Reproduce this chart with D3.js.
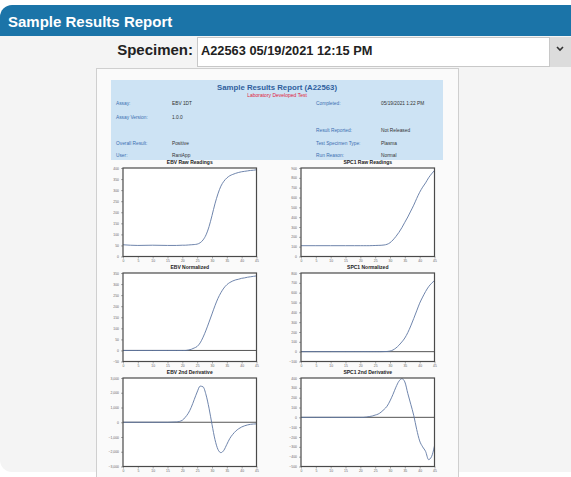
<!DOCTYPE html>
<html>
<head>
<meta charset="utf-8">
<script src="https://cdn.jsdelivr.net/npm/d3@7"></script>
<style>
  body { margin: 0; background: #fff; font-family: 'Liberation Sans', Arial, sans-serif; }
  svg { display: block; }
</style>
</head>
<body>
<svg id="page" width="571" height="477"></svg>
<script>
// cycles the curves are sampled at
const cycles = [0, 5, 10, 15, 18, 20, 21, 22, 23, 24, 25, 26, 27, 28, 29, 30, 31, 32, 33, 34, 35, 36, 37, 38, 39, 40, 41, 42, 43, 44, 45];

const ebvRaw = [53, 50, 51, 50, 50, 51, 51, 52, 53, 54, 56, 62, 75, 98, 135, 185, 238, 283, 318, 340, 355, 365, 371, 376, 380, 383, 385, 387, 389, 390, 392];
const spcRaw = [110, 110, 110, 110, 110, 110, 110, 110, 110, 111, 112, 113, 114, 117, 124, 140, 168, 204, 245, 293, 348, 402, 462, 522, 590, 653, 705, 749, 800, 840, 876];
const ebvNorm = [0, 0, 0, 0, 0, 0, 0, 2, 5, 11, 18, 34, 60, 92, 128, 165, 202, 235, 261, 282, 297, 307, 314, 319, 322, 326, 328, 331, 333, 335, 337];
const spcNorm = [0, 0, 0, 0, 0, 0, 0, 0, 0, 0, 0, 0, 0, 1, 2, 6, 17, 37, 65, 99, 139, 194, 262, 337, 415, 493, 555, 612, 660, 695, 724];
const ebvDeriv = [0, 0, 0, 0, 20, 135, 340, 610, 1010, 1530, 2050, 2450, 2400, 1850, 950, -150, -1170, -1840, -2060, -1900, -1500, -1100, -820, -600, -440, -320, -240, -180, -140, -120, -110];
const spcDeriv = [0, 0, 0, 0, 0, 0, 0, 3, 8, 13, 23, 33, 53, 80, 113, 167, 233, 307, 367, 393, 360, 243, 133, 20, -123, -240, -300, -347, -430, -400, -290];

// tick labels
const xTicks = [0, 5, 10, 15, 20, 25, 30, 35, 40, 45];
const ebvRawTicks = [0, 50, 100, 150, 200, 250, 300, 350, 400];
const spcRawTicks = [0, 100, 200, 300, 400, 500, 600, 700, 800, 900];
const ebvNormTicks = [-50, 0, 50, 100, 150, 200, 250, 300, 350];
const spcNormTicks = [-100, 0, 100, 200, 300, 400, 500, 600, 700, 800];
const ebvDerivTicks = [-3000, -2000, -1000, 0, 1000, 2000, 3000];
const spcDerivTicks = [-500, -400, -300, -200, -100, 0, 100, 200, 300, 400];

const chartTitles = ['EBV Raw Readings', 'SPC1 Raw Readings', 'EBV Normalized', 'SPC1 Normalized', 'EBV 2nd Derivative', 'SPC1 2nd Derivative'];

// report info fields
const leftLabels = ['Assay:', 'Assay Version:', '', 'Overall Result:', 'User:'];
const leftValues = ['EBV 1DT', '1.0.0', '', 'Positive', 'RaniApp'];
const rightLabels = ['Completed:', '', 'Result Reported:', 'Test Specimen Type:', 'Run Reason:'];
const rightValues = ['05/19/2021 1:22 PM', '', 'Not Released', 'Plasma', 'Normal'];

const svg = d3.select('#page');

// card body + header
svg.append('rect')
  .attr('x', 0).attr('y', 5).attr('width', 590).attr('height', 467)
  .attr('rx', 12)
  .attr('fill', '#f4f4f4');

svg.append('path')
  .attr('d', 'M0,17 A12,12 0 0 1 12,5 L571,5 L571,36 L0,36 Z')
  .attr('fill', '#1b74a8');

svg.append('text')
  .attr('x', 8).attr('y', 27)
  .attr('fill', '#fff')
  .attr('font-size', 15).attr('font-weight', 'bold')
  .text('Sample Results Report');

// specimen selector
svg.append('text')
  .attr('x', 193).attr('y', 55)
  .attr('text-anchor', 'end')
  .attr('font-size', 15).attr('font-weight', 'bold')
  .attr('fill', '#222')
  .text('Specimen:');

svg.append('rect')
  .attr('x', 197.5).attr('y', 37.5).attr('width', 352).attr('height', 29)
  .attr('fill', '#fff').attr('stroke', '#c8c8c8');
svg.append('rect')
  .attr('x', 550).attr('y', 37).attr('width', 21).attr('height', 30)
  .attr('fill', '#dcdcdc');
svg.append('path')
  .attr('d', 'M557,47 L560,50 L563,47')
  .attr('fill', 'none').attr('stroke', '#333').attr('stroke-width', 1.6);

svg.append('text')
  .attr('x', 201).attr('y', 55)
  .attr('font-size', 12.8).attr('font-weight', 'bold')
  .attr('fill', '#222')
  .text('A22563 05/19/2021 12:15 PM');

// report paper
svg.append('rect')
  .attr('x', 96.5).attr('y', 68.5).attr('width', 362).attr('height', 420)
  .attr('fill', '#fafafa').attr('stroke', '#cfcfcf');

svg.append('rect')
  .attr('x', 111).attr('y', 80).attr('width', 332).attr('height', 80)
  .attr('fill', '#cde3f4');

svg.append('text')
  .attr('x', 277).attr('y', 90)
  .attr('text-anchor', 'middle')
  .attr('font-size', 7.8).attr('font-weight', 'bold')
  .attr('fill', '#2f5f9e')
  .text('Sample Results Report (A22563)');

svg.append('text')
  .attr('x', 277).attr('y', 96.5)
  .attr('text-anchor', 'middle')
  .attr('font-size', 5)
  .attr('fill', '#e0203a')
  .text('Laboratory Developed Test');

const rowY = [105, 119, 132, 145, 157];
function addField(x, labels, color) {
  svg.append('g').selectAll('text')
    .data(labels)
    .enter()
    .append('text')
    .attr('x', x)
    .attr('y', (d, i) => rowY[i])
    .attr('font-size', 4.8)
    .attr('fill', color)
    .text((d) => d);
}
addField(116, leftLabels, '#3b6fb1');
addField(172, leftValues, '#333');
addField(316, rightLabels, '#3b6fb1');
addField(381, rightValues, '#333');

// one small line chart
function createChart(title, values, yTicks, left, top, width, height, zeroLine) {
  const x = d3.scaleLinear()
    .domain([0, 45])
    .range([left, left + width]);

  const y = d3.scaleLinear()
    .domain([yTicks[0], yTicks[yTicks.length - 1]])
    .range([top + height, top]);

  svg.append('text')
    .attr('x', left + width / 2).attr('y', top - 4)
    .attr('text-anchor', 'middle')
    .attr('font-size', 5).attr('font-weight', 'bold')
    .attr('fill', '#222')
    .text(title);

  svg.append('rect')
    .attr('x', left).attr('y', top).attr('width', width).attr('height', height)
    .attr('fill', '#fff');

  const yAxis = d3.axisLeft(y)
    .tickValues(yTicks)
    .tickSize(2)
    .tickPadding(2);
  const xAxis = d3.axisBottom(x)
    .tickValues(xTicks)
    .tickSize(2)
    .tickPadding(1.5);

  const gy = svg.append('g')
    .attr('transform', 'translate(' + left + ',0)')
    .call(yAxis);
  const gx = svg.append('g')
    .attr('transform', 'translate(0,' + (top + height) + ')')
    .call(xAxis);

  [gy, gx].forEach((g) => {
    g.select('.domain').remove();
    g.selectAll('line').attr('stroke', '#777').attr('stroke-width', 0.6);
    g.selectAll('text')
      .attr('font-size', 3.4)
      .attr('fill', '#666')
      .attr('font-family', 'Liberation Sans, Arial, sans-serif');
  });

  if (zeroLine) {
    svg.append('line')
      .attr('x1', left).attr('x2', left + width)
      .attr('y1', y(0)).attr('y2', y(0))
      .attr('stroke', '#555').attr('stroke-width', 1);
  }

  const line = d3.line()
    .x((d, i) => x(cycles[i]))
    .y((d) => y(d))
    .curve(d3.curveMonotoneX);

  svg.append('path')
    .datum(values)
    .attr('d', line)
    .attr('fill', 'none')
    .attr('stroke', '#5f77a3')
    .attr('stroke-width', 0.9);

  svg.append('rect')
    .attr('x', left).attr('y', top).attr('width', width).attr('height', height)
    .attr('fill', 'none')
    .attr('stroke', '#4a4a4a')
    .attr('stroke-width', 1.2);
}

const colX = [123, 301];
const rowTop = [168, 273, 378];
const chartW = 133.5;
const chartH = 88.5;

createChart(chartTitles[0], ebvRaw, ebvRawTicks, colX[0], rowTop[0], chartW, chartH, false);
createChart(chartTitles[1], spcRaw, spcRawTicks, colX[1], rowTop[0], chartW, chartH, false);
createChart(chartTitles[2], ebvNorm, ebvNormTicks, colX[0], rowTop[1], chartW, chartH, true);
createChart(chartTitles[3], spcNorm, spcNormTicks, colX[1], rowTop[1], chartW, chartH, true);
createChart(chartTitles[4], ebvDeriv, ebvDerivTicks, colX[0], rowTop[2], chartW, chartH, true);
createChart(chartTitles[5], spcDeriv, spcDerivTicks, colX[1], rowTop[2], chartW, chartH, true);
</script>
</body>
</html>
